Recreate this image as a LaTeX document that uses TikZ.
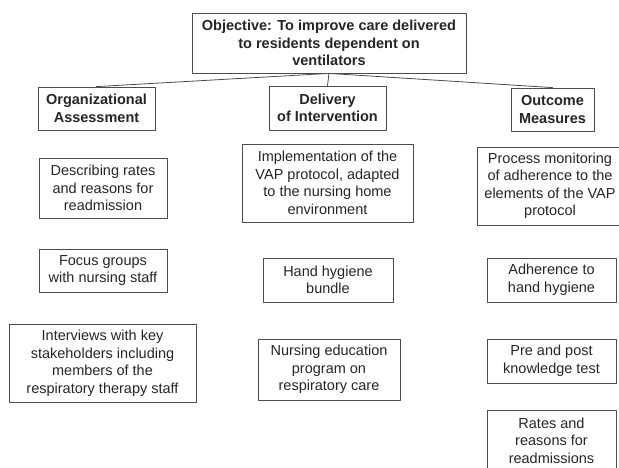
\documentclass[tikz,border=0pt]{standalone}
\usepackage{fontspec}
\setmainfont{Liberation Sans}
\begin{document}
\begin{tikzpicture}[x=1pt,y=-1pt, line join=round, line cap=round,
	font=\fontsize{14.5}{17.5}\selectfont, text=black!85,
	box/.style={draw=black!70, line width=.8pt, align=center, inner sep=2pt},
	head/.style={box, font=\fontsize{14.5}{17.5}\selectfont\bfseries}]
	\useasboundingbox (0,0) rectangle (619,468);
	% objective and the three headings
	\node[head, minimum width=274, minimum height=60] (obj) at (329,43) {Objective: To improve care delivered\\to residents dependent on\\ventilators};
	\node[head, minimum width=117, minimum height=43] (org) at (96.5,108.5) {Organizational\\Assessment};
	\node[head, minimum width=117, minimum height=44] (del) at (327.5,108) {Delivery\\of Intervention};
	\node[head, minimum width=83, minimum height=43] (out) at (552.5,109.5) {Outcome\\Measures};
	\draw[black!70, line width=.8pt] (org.north)--(obj.south)--(out.north) (obj.south)--(del.north);
	% organizational assessment
	\node[box, minimum width=128, minimum height=60] (desc) at (103,188) {Describing rates\\and reasons for\\readmission};
	\node[box, minimum width=128, minimum height=43] (focus) at (103,270.5) {Focus groups\\with nursing staff};
	\node[box, minimum width=187, minimum height=78] (intv) at (102.5,363) {Interviews with key\\stakeholders including\\members of the\\respiratory therapy staff};
	% delivery of intervention
	\node[box, minimum width=171, minimum height=78] (impl) at (327.5,183) {Implementation of the\\VAP protocol, adapted\\to the nursing home\\environment};
	\node[box, minimum width=130, minimum height=44] (hand) at (328,280) {Hand hygiene\\bundle};
	\node[box, minimum width=142, minimum height=61] (nurs) at (329,369.5) {Nursing education\\program on\\respiratory care};
	% outcome measures
	\node[box, minimum width=146, minimum height=78] (proc) at (550,186) {Process monitoring\\of adherence to the\\elements of the VAP\\protocol};
	\node[box, minimum width=129, minimum height=44] (adh) at (551.5,280) {Adherence to\\hand hygiene};
	\node[box, minimum width=129, minimum height=44] (pre) at (551.5,361) {Pre and post\\knowledge test};
	\node[box, minimum width=129, minimum height=61] (rates) at (551.5,440.5) {Rates and\\reasons for\\readmissions};
\end{tikzpicture}
\end{document}
